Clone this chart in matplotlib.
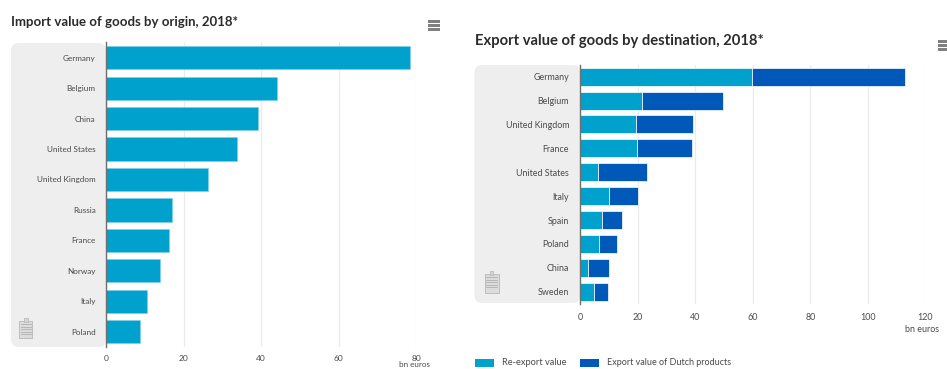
import matplotlib
matplotlib.use("Agg")
import matplotlib.pyplot as plt
from matplotlib.patches import FancyBboxPatch, Rectangle

W, H = 947, 369

import_countries = ["Germany", "Belgium", "China", "United States", "United Kingdom",
                    "Russia", "France", "Norway", "Italy", "Poland"]
import_values = [78.5, 44.0, 39.1, 33.7, 26.2, 17.0, 16.3, 13.9, 10.7, 8.7]
import_ticks = [0, 20, 40, 60, 80]

export_countries = ["Germany", "Belgium", "United Kingdom", "France", "United States",
                    "Italy", "Spain", "Poland", "China", "Sweden"]
reexport_values = [59.8, 21.3, 19.2, 19.6, 6.0, 9.9, 7.4, 6.6, 2.6, 4.8]
dutch_values = [53.0, 28.4, 20.0, 19.1, 17.3, 10.2, 7.2, 6.2, 7.4, 4.9]
export_ticks = [0, 20, 40, 60, 80, 100, 120]

LIGHT = "#00a1cd"
DARK = "#0058b8"
PANEL = "#eeeeee"
GRID = "#ebebeb"
TEXT = "#4a4a4a"
TITLE = "#2b2b2b"

plt.rcParams["font.family"] = ["Lato", "DejaVu Sans"]
fig = plt.figure(figsize=(W / 100, H / 100), dpi=100, facecolor="white")


def px_axes(left, top, right, bottom):
    return fig.add_axes([left / W, 1 - bottom / H, (right - left) / W, (bottom - top) / H])


def panel(left, top, right, bottom):
    fig.add_artist(FancyBboxPatch((left / W, 1 - bottom / H), (right - left) / W, (bottom - top) / H,
                                  boxstyle="round,pad=0,rounding_size=0.008",
                                  mutation_aspect=W / H, transform=fig.transFigure,
                                  fc=PANEL, ec="none", zorder=0))


def menu_icon(cx, cy):
    for dy in (-4, 0, 4):
        fig.add_artist(Rectangle(((cx - 6) / W, 1 - (cy + dy + 1) / H), 12 / W, 2.2 / H,
                                 transform=fig.transFigure, fc="#808080", ec="none"))


def clipboard_icon(cx, top, w=13, h=20):
    fig.add_artist(Rectangle(((cx - w / 2) / W, 1 - (top + h) / H), w / W, (h - 3) / H,
                             transform=fig.transFigure, fc="#dcdcdc", ec="#bdbdbd", lw=0.7))
    fig.add_artist(Rectangle(((cx - 2) / W, 1 - (top + 4) / H), 4 / W, 4 / H,
                             transform=fig.transFigure, fc="#d4d4d4", ec="#bdbdbd", lw=0.6))
    for i in range(5):
        y = top + 6 + i * 2.5
        fig.add_artist(plt.Line2D([(cx - w / 2 + 1.5) / W, (cx + w / 2 - 1.5) / W],
                                  [1 - y / H, 1 - y / H], transform=fig.transFigure,
                                  color="#b0b0b0", lw=0.6))


def style(ax, labels, ticks, xmax, ysize, xsize, ypad, xpad):
    n = len(labels)
    ax.set_xlim(0, xmax)
    ax.set_ylim(n - 0.5, -0.5)
    ax.patch.set_alpha(0)
    ax.set_yticks(range(n), labels)
    ax.set_xticks(ticks, [str(t) for t in ticks])
    ax.grid(axis="x", color=GRID, lw=0.9, zorder=0)
    ax.set_axisbelow(True)
    ax.tick_params(axis="y", length=0, pad=ypad, labelsize=ysize, labelcolor=TEXT)
    ax.tick_params(axis="x", length=0, pad=xpad, labelsize=xsize, labelcolor=TEXT)
    for name in ("top", "right", "bottom"):
        ax.spines[name].set_visible(False)
    ax.spines["left"].set_color("#6f6f6f")
    ax.spines["left"].set_linewidth(1.0)


# Imports by origin
panel(11, 43, 106, 347)
ax1 = px_axes(106, 42.5, 416, 346.9)
ax1.barh(range(len(import_countries)), import_values, height=0.765, color=LIGHT,
         edgecolor="#7fd0e6", linewidth=0.4, zorder=2)
style(ax1, import_countries, import_ticks, 80, ysize=5.9, xsize=6, ypad=7.5, xpad=6)
fig.text(11 / W, 1 - 22 / H, "Import value of goods by origin, 2018*", fontsize=9.5,
         fontweight="bold", color=TITLE, va="center")
fig.text(414 / W, 1 - 364.5 / H, "bn euros", fontsize=5.8, color=TEXT, ha="center", va="center")
menu_icon(434, 25.7)
clipboard_icon(25.5, 318)

# Exports by destination
panel(474.5, 65, 580.3, 303)
ax2 = px_axes(580.3, 64.75, 925.3, 303.7)
positions = range(len(export_countries))
ax2.barh(positions, reexport_values, height=0.753, color=LIGHT,
         edgecolor="#ffffff", linewidth=0.5, zorder=2)
ax2.barh(positions, dutch_values, left=reexport_values, height=0.753, color=DARK,
         edgecolor="#ffffff", linewidth=0.5, zorder=2)
style(ax2, export_countries, export_ticks, 120, ysize=6.4, xsize=6.4, ypad=8, xpad=7)
fig.text(475 / W, 1 - 41.5 / H, "Export value of goods by destination, 2018*", fontsize=10.6,
         fontweight="bold", color=TITLE, va="center")
fig.text(921.5 / W, 1 - 330 / H, "bn euros", fontsize=6.4, color=TEXT, ha="center", va="center")
menu_icon(943.7, 45.5)
clipboard_icon(491.5, 271, w=14, h=22)

# Legend row under the export chart
for x0, color in ((474.5, LIGHT), (579.5, DARK)):
    fig.add_artist(Rectangle((x0 / W, 1 - 367 / H), 19.5 / W, 8 / H, transform=fig.transFigure,
                             fc=color, ec="none"))
fig.text(502 / W, 1 - 362.7 / H, "Re-export value", fontsize=6.7, color=TEXT, va="center")
fig.text(607 / W, 1 - 362.7 / H, "Export value of Dutch products", fontsize=6.5, color=TEXT, va="center")

fig.savefig("out.png", dpi=100)
